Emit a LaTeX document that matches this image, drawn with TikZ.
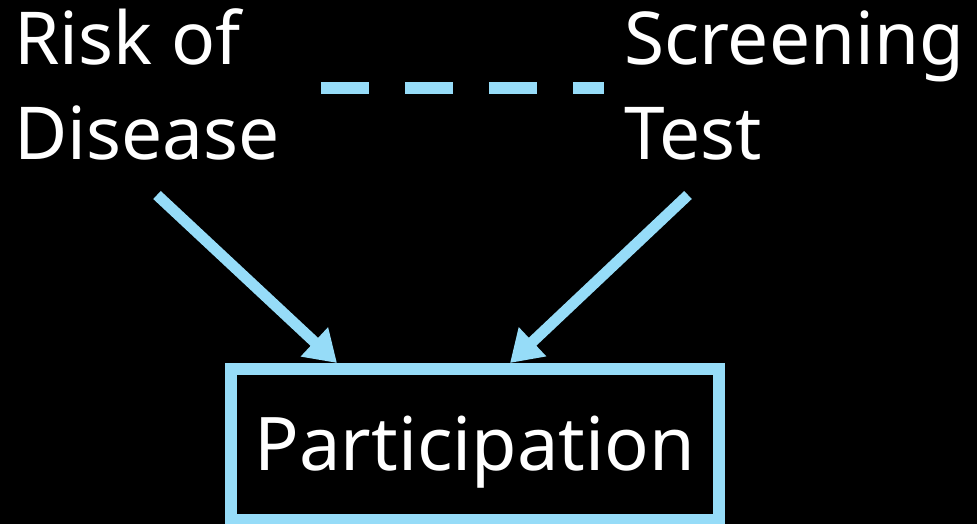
\documentclass[tikz,border=0pt]{standalone}
\usepackage{fontspec}
\setmainfont{Noto Sans}
\usetikzlibrary{arrows.meta,calc}
\definecolor{linkblue}{RGB}{150,220,248}
\tikzset{
  label text/.style={text=white, inner sep=0pt, outer sep=0pt, anchor=base west,
    align=left, font=\fontsize{73}{95}\selectfont},
  outcome box/.style={draw=linkblue, line width=12pt, text=white,
    minimum width=488pt, minimum height=151pt, text height=60pt, text depth=9pt,
    inner sep=0pt, font=\fontsize{74}{80}\selectfont},
  assoc line/.style={draw=linkblue, line width=12pt, dash pattern=on 48pt off 36pt},
  cause arrow/.style={draw=linkblue, line width=11pt,
    -{Triangle[length=31pt,width=38pt]}}
}
\begin{document}
\begin{tikzpicture}[x=1pt,y=-1pt]
  \useasboundingbox (0,0) rectangle (977,524);
  \fill[black] (0,0) rectangle (977,524);

  % variables (base anchor sits on the last line)
  \node[label text] (risk) at (14.5,160) {Risk of\\Disease};
  \node[label text] (screen) at (624,160) {Screening\\Test};
  \node[outcome box] (part) at (475,444.5) {Participation};

  % undirected association between the two causes
  \coordinate (assocY) at (0,88);
  \draw[assoc line, shorten <=41pt, shorten >=20pt]
    (risk.east |- assocY) -- (screen.west |- assocY);

  % causal arrows into participation
  \coordinate (riskout) at (157,195);
  \coordinate (screenout) at (688,195);
  \draw[cause arrow] (riskout) -- ($(part.north)+(-138,0)$);
  \draw[cause arrow] (screenout) -- ($(part.north)+(35,0)$);
\end{tikzpicture}
\end{document}
